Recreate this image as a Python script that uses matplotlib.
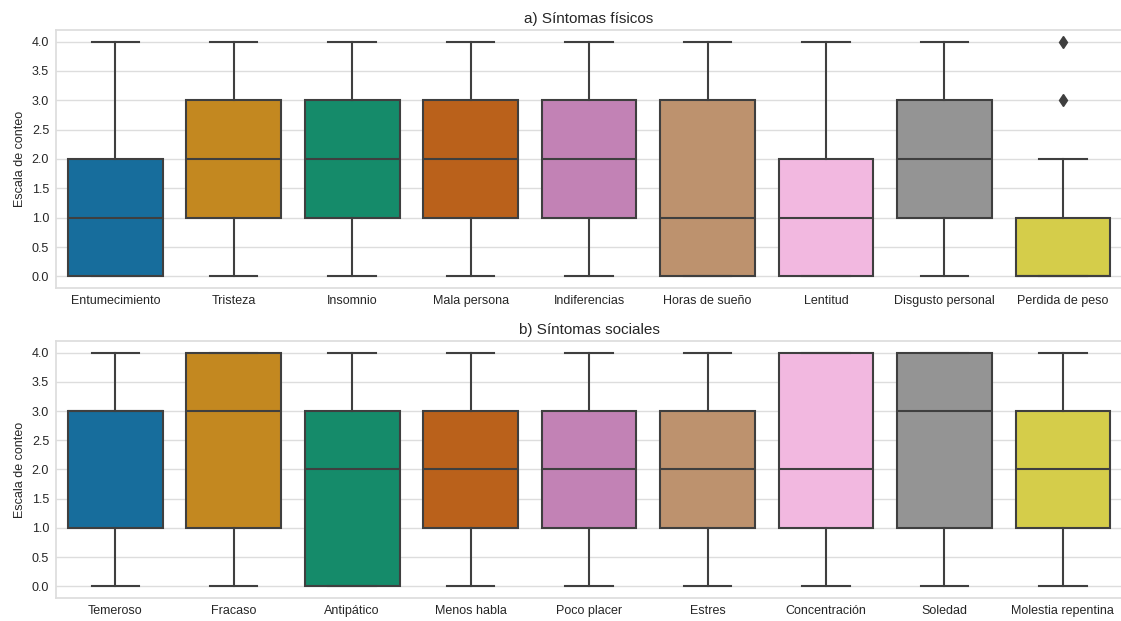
import colorsys
import matplotlib
matplotlib.use("Agg")
from matplotlib import pyplot as plt
from matplotlib import colors as mcolors

# síntomas físicos
fis_labels = ["Entumecimiento", "Tristeza", "Insomnio", "Mala persona", "Indiferencias",
              "Horas de sueño", "Lentitud", "Disgusto personal", "Perdida de peso"]
fis_whislo = [0, 0, 0, 0, 0, 0, 0, 0, 0]
fis_q1 = [0, 1, 1, 1, 1, 0, 0, 1, 0]
fis_med = [1, 2, 2, 2, 2, 1, 1, 2, 0]
fis_q3 = [2, 3, 3, 3, 3, 3, 2, 3, 1]
fis_whishi = [4, 4, 4, 4, 4, 4, 4, 4, 2]
fis_fliers = [[], [], [], [], [], [], [], [], [3, 4]]

# síntomas sociales
soc_labels = ["Temeroso", "Fracaso", "Antipático", "Menos habla", "Poco placer",
              "Estres", "Concentración", "Soledad", "Molestia repentina"]
soc_whislo = [0, 0, 0, 0, 0, 0, 0, 0, 0]
soc_q1 = [1, 1, 0, 1, 1, 1, 1, 1, 1]
soc_med = [3, 3, 2, 2, 2, 2, 2, 3, 2]
soc_q3 = [3, 4, 3, 3, 3, 3, 4, 4, 3]
soc_whishi = [4, 4, 4, 4, 4, 4, 4, 4, 4]
soc_fliers = [[], [], [], [], [], [], [], [], []]

palette = ["#0173B2", "#DE8F05", "#029E73", "#D55E00", "#CC78BC",
           "#CA9161", "#FBAFE4", "#949494", "#ECE133"]


def desat(c, prop=0.75):
    h, l, s = colorsys.rgb_to_hls(*mcolors.to_rgb(c))
    return colorsys.hls_to_rgb(h, l, s * prop)


plt.rcParams["font.family"] = ["Liberation Sans", "DejaVu Sans"]
plt.rcParams["text.color"] = "#262626"
plt.rcParams["axes.labelcolor"] = "#262626"
plt.rcParams["xtick.color"] = "#262626"
plt.rcParams["ytick.color"] = "#262626"

line_col = "#3f3f3f"


def draw(ax, labels, whislo, q1, med, q3, whishi, fliers, title):
    stats = []
    for i in range(len(labels)):
        stats.append(dict(label=labels[i], whislo=whislo[i], q1=q1[i], med=med[i],
                          q3=q3[i], whishi=whishi[i], fliers=fliers[i]))
    bp = ax.bxp(stats, positions=range(len(labels)), widths=0.8, patch_artist=True,
                showfliers=True,
                boxprops=dict(edgecolor=line_col, linewidth=1.5),
                medianprops=dict(color=line_col, linewidth=1.5),
                whiskerprops=dict(color=line_col, linewidth=1.5),
                capprops=dict(color=line_col, linewidth=1.5),
                flierprops=dict(marker="d", markerfacecolor=line_col,
                                markeredgecolor=line_col, markersize=6))
    for patch, c in zip(bp["boxes"], palette):
        patch.set_facecolor(desat(c))
    ax.set_xlim(-0.5, len(labels) - 0.5)
    ax.set_ylim(-0.2, 4.2)
    ax.set_yticks([0, 0.5, 1, 1.5, 2, 2.5, 3, 3.5, 4])
    ax.set_yticklabels(["%.1f" % v for v in ax.get_yticks()])
    ax.set_xticks(range(len(labels)))
    ax.set_xticklabels(labels)
    ax.tick_params(labelsize=9, length=0, pad=5)
    ax.yaxis.grid(True, color="#dddddd", linewidth=1)
    ax.xaxis.grid(False)
    ax.set_axisbelow(True)
    for s in ax.spines.values():
        s.set_color("#dddddd")
        s.set_linewidth(1.25)
    ax.set_ylabel("Escala de conteo", fontsize=9)
    ax.set_title(title, fontsize=11, pad=5)


fig = plt.figure(figsize=(11.21, 6.21), dpi=100)
ax1 = fig.add_axes([0.05, 0.536, 0.951, 0.416])
ax2 = fig.add_axes([0.05, 0.037, 0.951, 0.414])

draw(ax1, fis_labels, fis_whislo, fis_q1, fis_med, fis_q3, fis_whishi, fis_fliers,
     "a) Síntomas físicos")
draw(ax2, soc_labels, soc_whislo, soc_q1, soc_med, soc_q3, soc_whishi, soc_fliers,
     "b) Síntomas sociales")

fig.savefig("out.png", dpi=100)
